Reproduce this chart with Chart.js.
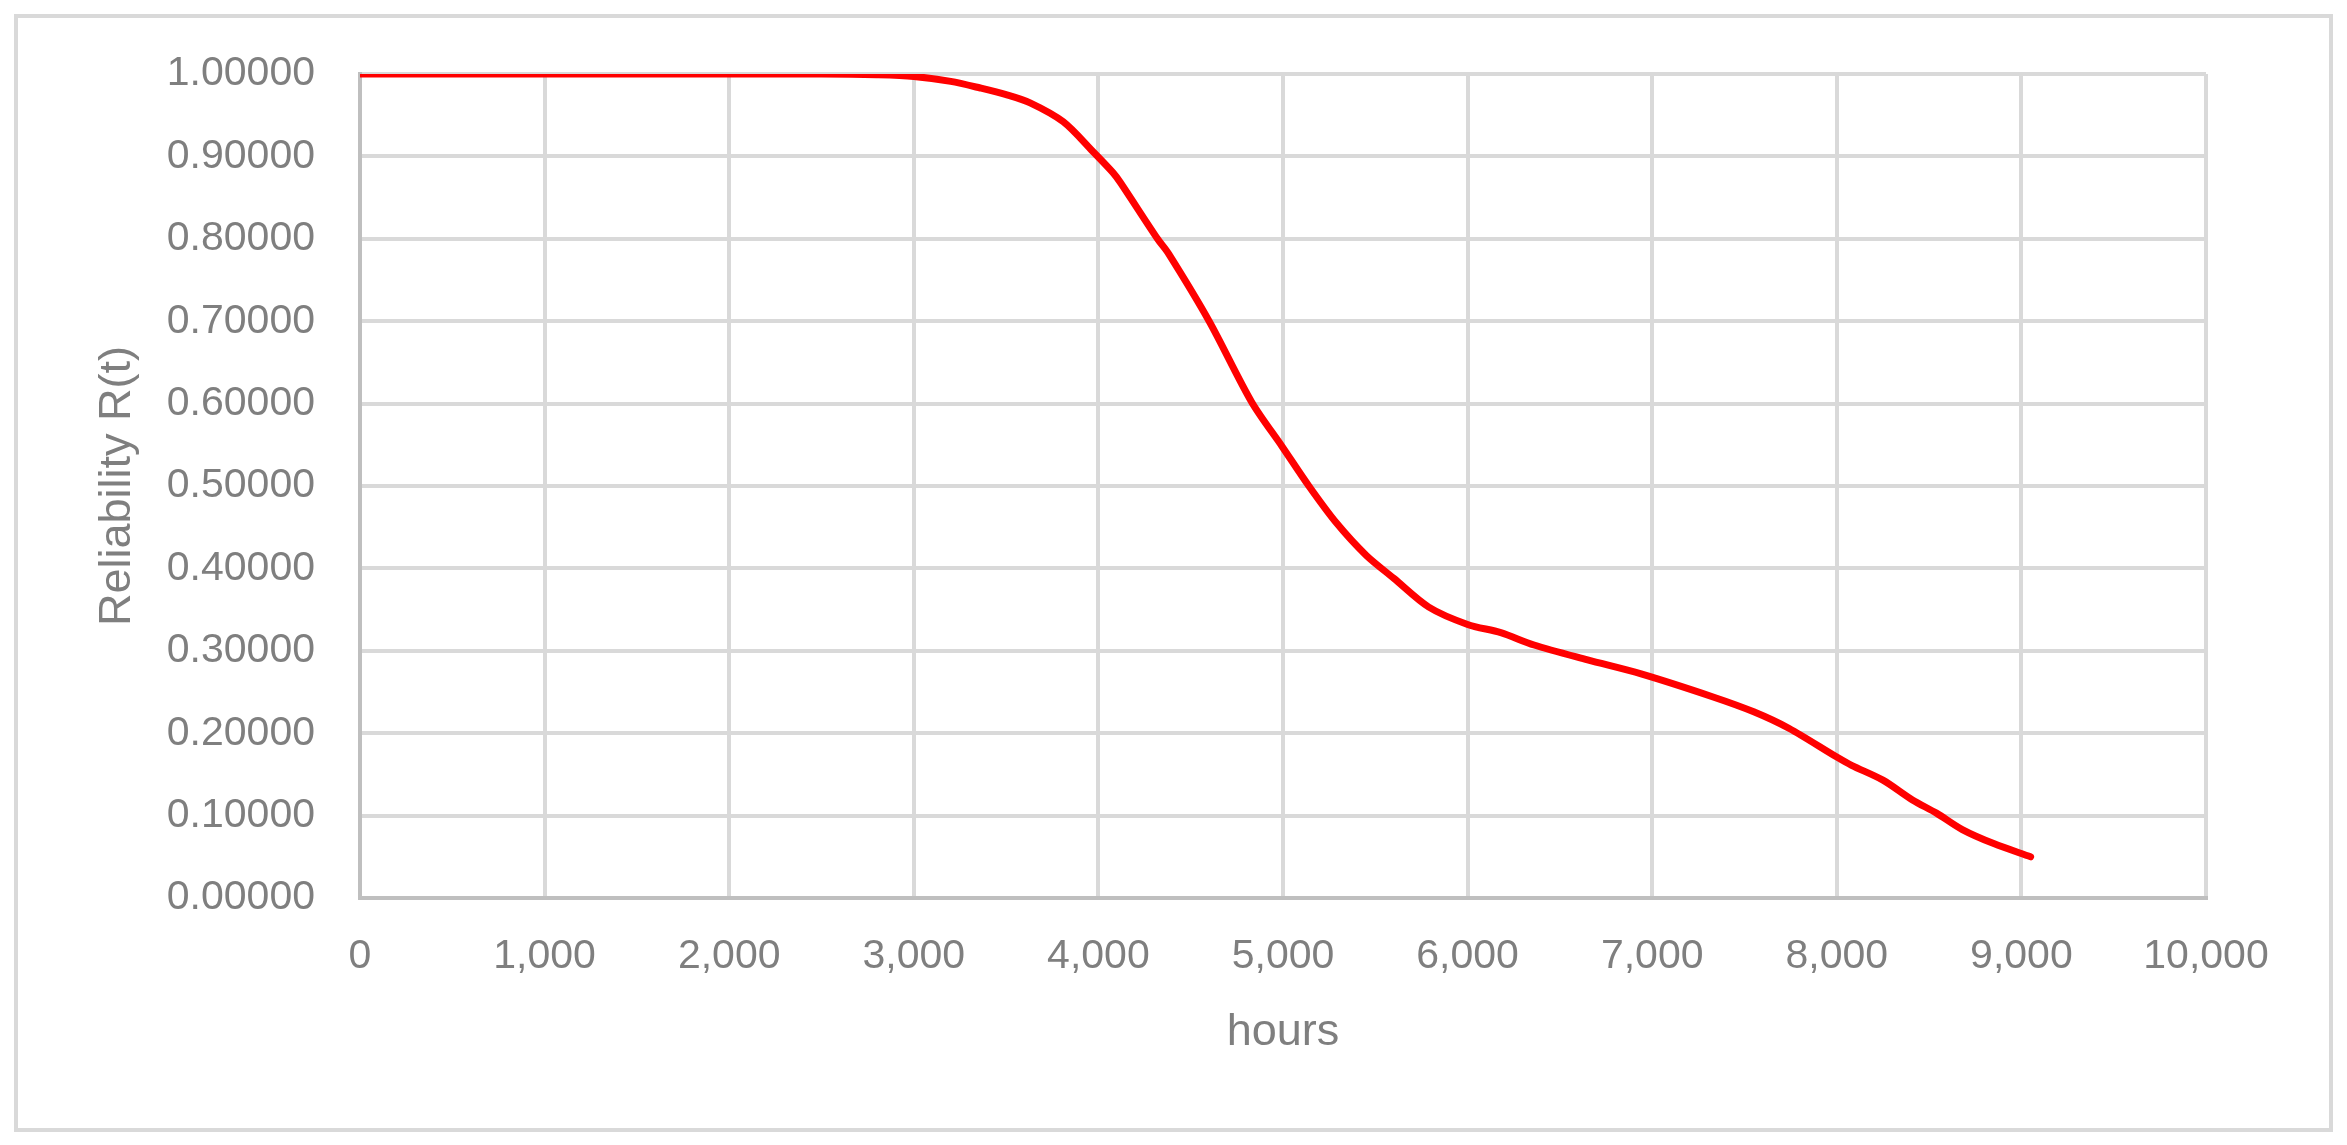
<!DOCTYPE html>
<html>
<head>
<meta charset="utf-8">
<style>
  html, body { margin: 0; padding: 0; background: #ffffff; }
  #wrap { width: 2347px; height: 1145px; }
</style>
<script src="https://cdn.jsdelivr.net/npm/chart.js@4.4.1/dist/chart.umd.min.js"></script>
</head>
<body>
<div id="wrap"><canvas id="c" width="2347" height="1145"></canvas></div>
<script>
// Data
const hours = [0, 500, 1000, 1500, 2000, 2500, 2800, 3000, 3200, 3360, 3500, 3630, 3810, 3970, 4080, 4120, 4320, 4380, 4600, 4830, 4995, 5140, 5290, 5450, 5600, 5790, 6000, 6180, 6360, 6650, 6940, 7330, 7550, 7740, 8000, 8080, 8250, 8410, 8540, 8680, 8850, 9050];
const reliability = [1.000, 1.000, 1.000, 1.000, 1.000, 1.000, 0.999, 0.997, 0.991, 0.983, 0.975, 0.965, 0.942, 0.906, 0.880, 0.868, 0.800, 0.782, 0.700, 0.602, 0.548, 0.500, 0.455, 0.416, 0.388, 0.353, 0.332, 0.322, 0.307, 0.289, 0.272, 0.244, 0.226, 0.206, 0.171, 0.161, 0.143, 0.119, 0.103, 0.083, 0.066, 0.050];
const xTickValues = [0, 1000, 2000, 3000, 4000, 5000, 6000, 7000, 8000, 9000, 10000];
const yTickValues = [0, 0.1, 0.2, 0.3, 0.4, 0.5, 0.6, 0.7, 0.8, 0.9, 1.0];
const xTitle = 'hours';
const yTitle = 'Reliability R(t)';

const points = hours.map((h, i) => ({ x: h, y: reliability[i] }));

const textColor = '#7f7f7f';
const gridColor = '#d9d9d9';
const axisColor = '#bfbfbf';
const fontFamily = '"Liberation Sans", Arial, sans-serif';

const framePlugin = {
  id: 'frame',
  beforeDraw(chart) {
    const ctx = chart.ctx;
    ctx.save();
    ctx.fillStyle = '#ffffff';
    ctx.fillRect(0, 0, chart.width, chart.height);
    ctx.strokeStyle = '#d9d9d9';
    ctx.lineWidth = 4;
    ctx.strokeRect(16, 16, chart.width - 32, chart.height - 31);
    ctx.restore();
  }
};

new Chart(document.getElementById('c'), {
  type: 'line',
  data: {
    datasets: [{
      data: points,
      borderColor: '#ff0000',
      borderWidth: 7,
      borderCapStyle: 'round',
      borderJoinStyle: 'round',
      pointRadius: 0,
      fill: false,
      tension: 0.3
    }]
  },
  options: {
    responsive: false,
    devicePixelRatio: 1,
    animation: false,
    layout: { padding: { left: 0, top: 74, right: 141, bottom: 0 } },
    plugins: { legend: { display: false }, tooltip: { enabled: false } },
    scales: {
      x: {
        type: 'linear',
        min: xTickValues[0],
        max: xTickValues[xTickValues.length - 1],
        afterBuildTicks(scale) { scale.ticks = xTickValues.map(v => ({ value: v })); },
        afterFit(scale) { scale.height = 247; },
        grid: { color: gridColor, lineWidth: 4, drawTicks: false },
        border: { color: axisColor, width: 4 },
        ticks: {
          color: textColor,
          font: { family: fontFamily, size: 41 },
          padding: 34,
          maxRotation: 0,
          autoSkip: false,
          callback: v => Number(v).toLocaleString('en-US')
        },
        title: {
          display: true,
          text: xTitle,
          color: textColor,
          font: { family: fontFamily, size: 45 },
          padding: { top: 0, bottom: 85 }
        }
      },
      y: {
        type: 'linear',
        min: yTickValues[0],
        max: yTickValues[yTickValues.length - 1],
        afterBuildTicks(scale) { scale.ticks = yTickValues.map(v => ({ value: v })); },
        afterFit(scale) { scale.width = 360; },
        grid: { color: gridColor, lineWidth: 4, drawTicks: false },
        border: { color: axisColor, width: 4 },
        ticks: {
          color: textColor,
          font: { family: fontFamily, size: 41 },
          padding: 45,
          autoSkip: false,
          callback: v => Number(v).toFixed(5)
        },
        title: {
          display: true,
          text: yTitle,
          color: textColor,
          font: { family: fontFamily, size: 45 },
          padding: { top: 91, bottom: 0 }
        }
      }
    }
  },
  plugins: [framePlugin]
});
</script>
</body>
</html>
